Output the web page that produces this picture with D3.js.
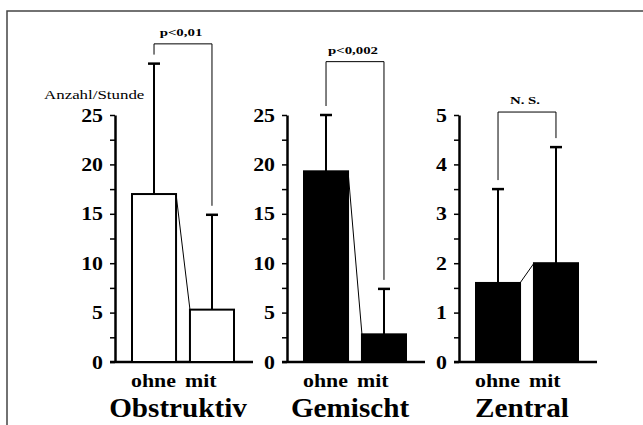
<!DOCTYPE html>
<html>
<head>
<meta charset="utf-8">
<script src="https://cdn.jsdelivr.net/npm/d3@7"></script>
<style>
body{margin:0;background:#fff}
svg{display:block}
</style>
</head>
<body>
<script>
// values (Anzahl/Stunde)
var categories = ["ohne", "mit"];
var groups = ["Obstruktiv", "Gemischt", "Zentral"];
var means = [[17.0, 5.3], [19.3, 2.8], [1.6, 2.0]];
var sds = [[13.2, 9.6], [5.7, 4.6], [1.9, 2.35]];
var yMax = [25, 25, 5];
var yStep = [5, 5, 1];
var pTexts = ["p<0,01", "p<0,002", "N. S."];
var bracketLevel = [32.2, 30.4, 5.06];
var yLabel = "Anzahl/Stunde";

var W = 643, H = 425;
var serif = "'Liberation Serif', 'Times New Roman', serif";
var svg = d3.select("body").append("svg").attr("width", W).attr("height", H);

// frame (only top and left edges show)
svg.append("path").attr("d", "M7," + H + "V11H" + W)
    .attr("fill", "none").attr("stroke", "#444").attr("stroke-width", 1.5);

// text stretched sideways like the scanned original
function stretchText(g, str, x, y, k, size, weight, anchor) {
    return g.append("text")
        .attr("transform", "translate(" + x + "," + y + ") scale(" + k + ",1)")
        .attr("text-anchor", anchor || "middle")
        .style("font-family", serif)
        .style("font-size", size + "px")
        .style("font-weight", weight)
        .text(str);
}

var px = d3.scalePoint().domain(groups).range([115, 459]);
var yBottom = 362, yTop = 115;

groups.forEach(function (g, i) {
    var ax = px(g);
    var y = d3.scaleLinear().domain([0, yMax[i]]).range([yBottom, yTop]);
    var x = d3.scaleBand().domain(categories).range([ax + 17, ax + 119]).paddingInner(0.24);
    var bw = x.bandwidth();
    var p = svg.append("g").attr("class", "panel");

    // baseline
    p.append("line")
        .attr("x1", ax - 5).attr("x2", ax + 138)
        .attr("y1", y(0)).attr("y2", y(0))
        .attr("stroke", "#000").attr("stroke-width", 2.5);

    // y axis, minor ticks every half step
    var ticks = d3.range(0, yMax[i] + 1e-9, yStep[i] / 2);
    var axis = d3.axisLeft(y)
        .tickValues(ticks)
        .tickSize(5)
        .tickSizeOuter(0)
        .tickFormat(function (d) { return Math.abs(d % yStep[i]) < 1e-9 ? d : ""; });
    var ag = p.append("g").attr("transform", "translate(" + ax + ",0)").call(axis);
    ag.select(".domain").attr("stroke-width", 2.5);
    ag.selectAll(".tick line").attr("stroke-width", 1.5);
    ag.selectAll(".tick text")
        .attr("x", -12 / 1.15)
        .attr("transform", "scale(1.15,1)")
        .style("font-family", serif)
        .style("font-size", "19px")
        .style("font-weight", "bold");

    // bars
    p.selectAll("rect.bar").data(categories).enter().append("rect")
        .attr("class", "bar")
        .attr("x", function (c) { return x(c); })
        .attr("y", function (c, j) { return y(means[i][j]); })
        .attr("width", bw)
        .attr("height", function (c, j) { return y(0) - y(means[i][j]); })
        .attr("fill", i === 0 ? "#fff" : "#000")
        .attr("stroke", "#000")
        .attr("stroke-width", 2);

    // line joining the two bar tops
    p.append("line")
        .attr("x1", x(categories[0]) + bw).attr("y1", y(means[i][0]))
        .attr("x2", x(categories[1])).attr("y2", y(means[i][1]))
        .attr("stroke", "#000").attr("stroke-width", 1);

    // error bars (upper half only)
    categories.forEach(function (c, j) {
        var cx = x(c) + bw / 2;
        var top = y(means[i][j] + sds[i][j]);
        p.append("line")
            .attr("x1", cx).attr("x2", cx)
            .attr("y1", y(means[i][j])).attr("y2", top)
            .attr("stroke", "#000").attr("stroke-width", 2);
        p.append("line")
            .attr("x1", cx - 6).attr("x2", cx + 6)
            .attr("y1", top).attr("y2", top)
            .attr("stroke", "#000").attr("stroke-width", 2.5);
    });

    // significance bracket
    var c0 = x(categories[0]) + bw / 2, c1 = x(categories[1]) + bw / 2;
    var yb = y(bracketLevel[i]);
    var e0 = y(means[i][0] + sds[i][0]) - 9, e1 = y(means[i][1] + sds[i][1]) - 9;
    p.append("path")
        .attr("d", "M" + c0 + "," + e0 + "V" + yb + "H" + c1 + "V" + e1)
        .attr("fill", "none").attr("stroke", "#000").attr("stroke-width", 1);
    stretchText(p, pTexts[i], (c0 + c1) / 2 - 2, yb - 8, 1.35, 11, "bold");

    // category labels ("mit" sits a fixed step after "ohne") and group title
    categories.forEach(function (c, j) {
        stretchText(p, c, x(categories[0]) - 1 + j * 54, 387, 1.15, 19, "bold", "start");
    });
    stretchText(p, g, ax + 63, 417, 1.08, 27, "bold");

    if (i === 0) {
        stretchText(p, yLabel, 44, 99, 1.3, 13, "normal", "start");
    }
});
</script>
</body>
</html>
